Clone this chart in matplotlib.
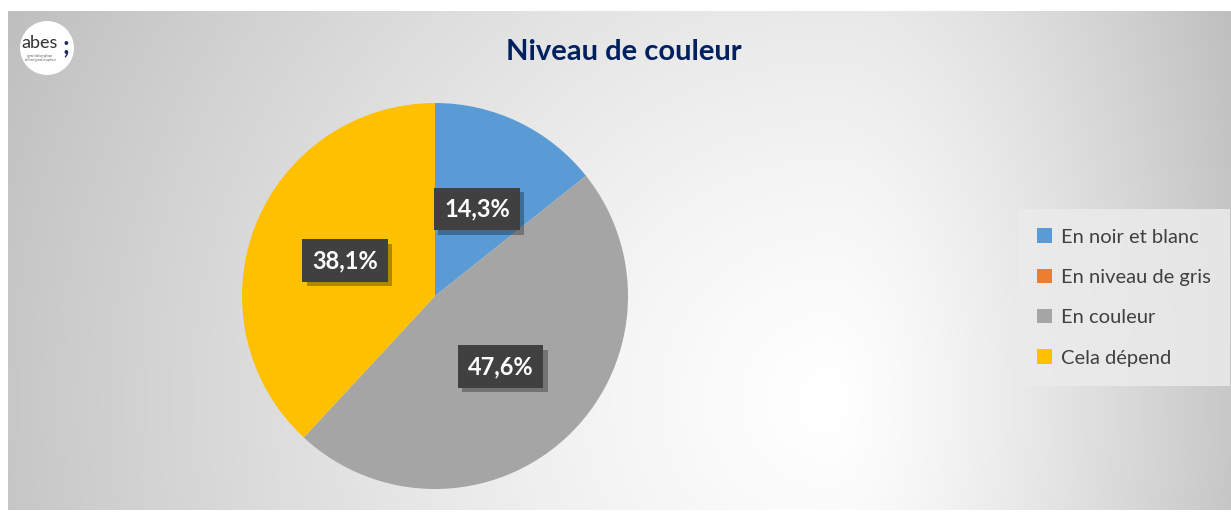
import numpy as np
import matplotlib
matplotlib.use("Agg")
from matplotlib import pyplot as plt
from matplotlib import patches, patheffects, transforms

plt.rcParams['font.family'] = ['Lato', 'DejaVu Sans']

### Data (percentages)
categories = ["En noir et blanc", "En niveau de gris", "En couleur", "Cela dépend"]
values = [14.3, 0.0, 47.6, 38.1]
colors = ["#5b9bd5", "#ed7d31", "#a5a5a5", "#ffc000"]
title = "Niveau de couleur"

W, H = 1231, 513
fig = plt.figure(figsize=(W / 100, H / 100), dpi=100)
fig.patch.set_facecolor("white")

# gradient background of the chart area
bx0, bx1, by0, by1 = 8, 1231, 11, 510
bg = fig.add_axes([bx0 / W, (H - by1) / H, (bx1 - bx0) / W, (by1 - by0) / H])
xs = np.arange(bx0, bx1)
ys = np.arange(by0, by1)
X, Y = np.meshgrid(xs, ys)
cx, cy = 830, 400
sx = np.where(X < cx, cx - bx0, bx1 - cx)
t = np.sqrt(((X - cx) / sx) ** 2 + ((Y - cy) / 800.0) ** 2)
g = np.clip(255 - 56 * t ** 1.3, 185, 255) / 255.0
img = np.dstack([g, g, g])
bg.imshow(img, aspect="auto", interpolation="bilinear")
bg.set_axis_off()

# pie
pcx, pcy, pr = 435, 296, 193
ax = fig.add_axes([(pcx - pr) / W, (H - pcy - pr) / H, 2 * pr / W, 2 * pr / H])
ax.patch.set_alpha(0)


def fmt(p):
    return "" if p < 0.05 else f"{p:.1f}%".replace(".", ",")


wedges, texts, autotexts = ax.pie(values, colors=colors, startangle=90, counterclock=False,
                                  autopct=fmt, pctdistance=0.5, radius=1.0,
                                  wedgeprops=dict(linewidth=0))
ax.set_xlim(-1, 1)
ax.set_ylim(-1, 1)
ax.set_aspect("auto")

for at in autotexts:
    if not at.get_text():
        continue
    at.set_color("white")
    at.set_fontsize(17)
    at.set_fontweight("bold")
    at.set_bbox(dict(boxstyle="square,pad=0.42", fc="#404040", ec="none"))
    at.get_bbox_patch().set_path_effects([
        patheffects.withSimplePatchShadow(offset=(3, -3), shadow_rgbFace="black", alpha=0.3)])

# title
fig.text(624 / W, 1 - 52 / H, title, ha="center", va="center", fontsize=21,
         fontweight="bold", color="#002060")

# legend
leg = fig.legend(wedges, categories, loc="center left", bbox_to_anchor=(1018 / W, 1 - 297.5 / H),
                 fontsize=14.5, frameon=True, fancybox=False, facecolor="#ebebeb",
                 edgecolor="none", framealpha=0.85, handlelength=0.72, handleheight=0.72,
                 handletextpad=0.45, labelspacing=1.15, borderpad=0.95, borderaxespad=0)
for txt in leg.get_texts():
    txt.set_color("#404040")

# logo
lx, ly = 47, 48
logo = patches.Circle((lx, H - ly), 27, facecolor="white", edgecolor="none",
                      transform=transforms.Affine2D().scale(1 / W, 1 / H) + fig.transFigure)
fig.patches.append(logo)
fig.text(40 / W, 1 - 43 / H, "abes", ha="center", va="center", fontsize=13, color="#333333")
fig.text(66 / W, 1 - 46 / H, ";", ha="center", va="center", fontsize=18, fontweight="bold",
         color="#1f2a5c")
fig.text(40 / W, 1 - 58 / H, "agence bibliographique\nde l'enseignement supérieur",
         ha="center", va="center", fontsize=1.8, color="#555555", linespacing=1.0)

fig.savefig("out.png", dpi=100, facecolor="white")
